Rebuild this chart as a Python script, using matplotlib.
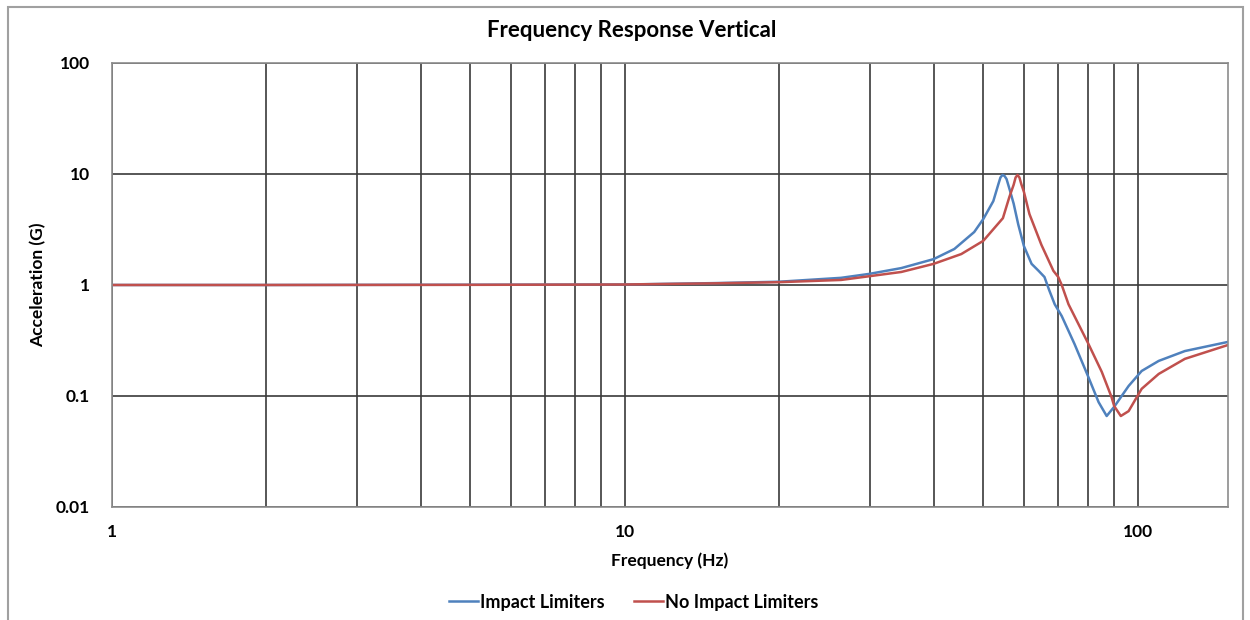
import matplotlib.pyplot as plt
import matplotlib.patches as mpatches
from matplotlib.ticker import FixedLocator, NullFormatter

plt.rcParams['font.family'] = ['Lato', 'DejaVu Sans']
plt.rcParams['font.weight'] = 'bold'

# values
freq_impact = [1, 2, 5, 10, 15, 20, 26.4, 30, 34.6, 40, 43.9, 48, 50, 52.3, 53.5,
               54.0, 54.5, 55.0, 55.5, 56.3, 57.3, 58.5, 60, 62.1, 64.1, 65.8,
               67.2, 68.9, 71.1, 75.3, 80, 83.9, 87.0, 90, 96, 101.8, 109.9, 123.6, 150]
acc_impact = [1.0, 1.0, 1.005, 1.01, 1.04, 1.07, 1.16, 1.26, 1.42, 1.71, 2.11, 3.0,
              3.93, 5.7, 8.1, 9.3, 9.8, 9.6, 9.0, 7.2, 5.4, 3.5, 2.24, 1.55, 1.34,
              1.18, 0.9, 0.67, 0.525, 0.294, 0.151, 0.088, 0.066, 0.08, 0.123, 0.168,
              0.207, 0.254, 0.307]

freq_no_impact = [1, 2, 5, 10, 15, 20, 26.4, 30, 34.6, 40, 45.3, 50, 54.6, 56.2,
                  57.3, 57.8, 58.3, 58.8, 59.3, 60, 61.5, 64.9, 68.5, 70, 71.1, 73.3,
                  80, 85.1, 88.9, 90, 92.7, 96, 101.8, 109.9, 123.6, 150]
acc_no_impact = [1.0, 1.0, 1.003, 1.01, 1.035, 1.06, 1.11, 1.2, 1.31, 1.55, 1.9,
                 2.5, 4.0, 6.2, 8.0, 9.3, 9.8, 9.3, 8.1, 6.9, 4.36, 2.3, 1.34, 1.18,
                 1.0, 0.67, 0.3, 0.165, 0.098, 0.081, 0.066, 0.073, 0.116, 0.158,
                 0.216, 0.288]

x_major = [1, 10, 100]
x_minor = [2, 3, 4, 5, 6, 7, 8, 9, 20, 30, 40, 50, 60, 70, 80, 90]
y_major = [0.01, 0.1, 1, 10, 100]
y_labels = ['0.01', '0.1', '1', '10', '100']

fig = plt.figure(figsize=(12.5, 6.2), dpi=100)
ax = fig.add_axes([0.0896, 0.1823, 0.8928, 0.7161])

ax.plot(freq_impact, acc_impact, color='#4F81BD', lw=1.8, label='Impact Limiters')
ax.plot(freq_no_impact, acc_no_impact, color='#C0504D', lw=1.8, label='No Impact Limiters')

ax.set_xscale('log')
ax.set_yscale('log')
ax.set_xlim(1, 150)
ax.set_ylim(0.01, 100)

ax.xaxis.set_major_locator(FixedLocator(x_major))
ax.xaxis.set_minor_locator(FixedLocator(x_minor))
ax.xaxis.set_minor_formatter(NullFormatter())
ax.set_xticklabels([str(v) for v in x_major])
ax.yaxis.set_major_locator(FixedLocator(y_major))
ax.yaxis.set_minor_locator(FixedLocator([]))
ax.set_yticklabels(y_labels)

ax.tick_params(which='both', length=0)
ax.tick_params(axis='x', pad=12, labelsize=12.5)
ax.tick_params(axis='y', pad=16, labelsize=12.5)

ax.xaxis.grid(True, which='both', color='#3a3a3a', lw=1.2)
ax.yaxis.grid(True, which='major', color='#3a3a3a', lw=1.2)
ax.set_axisbelow(True)
for s in ax.spines.values():
    s.set_color('#8c8c8c')
    s.set_linewidth(1.2)

ax.set_xlabel('Frequency (Hz)', fontsize=12.5, fontweight='bold', va='center')
ax.xaxis.set_label_coords(0.5, -0.122)
ax.set_ylabel('Acceleration (G)', fontsize=12.5, fontweight='bold', va='center')
ax.yaxis.set_label_coords(-0.066, 0.5)
fig.text(0.505, 0.951, 'Frequency Response Vertical', fontsize=16, fontweight='bold',
         ha='center', va='center')

fig.legend(loc='center', bbox_to_anchor=(0.507, 0.029), ncol=2, frameon=False,
           fontsize=13, handlelength=1.6, handletextpad=0.15, columnspacing=1.6)

# outer chart border
fig.patches.append(mpatches.Rectangle((0.006, -0.01), 0.988, 0.998, transform=fig.transFigure,
                                      fill=False, edgecolor='#a0a0a0', lw=1.5))

fig.savefig('out.png', dpi=100)
